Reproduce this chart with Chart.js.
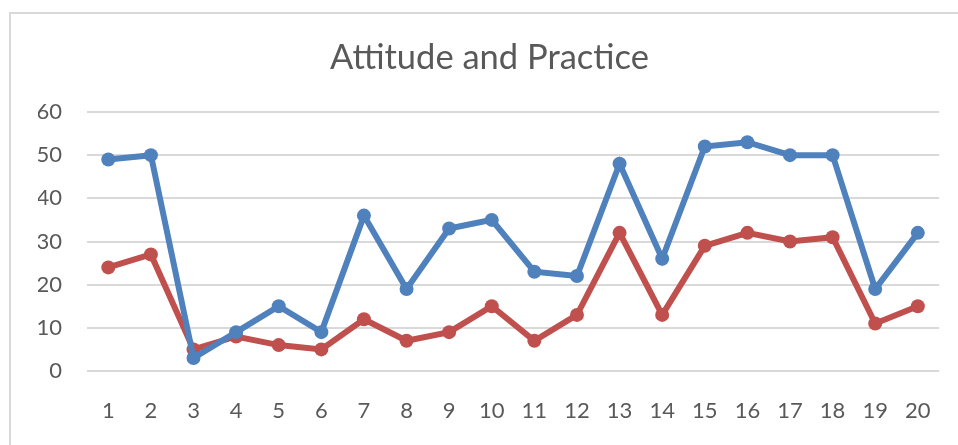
<!DOCTYPE html>
<html><head><meta charset="utf-8">
<script src="https://cdn.jsdelivr.net/npm/chart.js@4"></script>
<style>
html,body{margin:0;padding:0;background:#fff;overflow:hidden}
#frame{position:absolute;left:9px;top:12px;width:1100px;height:600px;border:2px solid #d9d9d9;box-sizing:border-box}
#wrap{position:absolute;left:0;top:0;width:958px;height:445px}
</style></head><body>
<div id="frame"></div>
<div id="wrap"><canvas id="c" width="958" height="445"></canvas></div>
<script>
const categories = ['1','2','3','4','5','6','7','8','9','10','11','12','13','14','15','16','17','18','19','20'];
const attitude = [49,50,3,9,15,9,36,19,33,35,23,22,48,26,52,53,50,50,19,32];
const practice = [24,27,5,8,6,5,12,7,9,15,7,13,32,13,29,32,30,31,11,15];
const yTicks = [0,10,20,30,40,50,60];
const title = 'Attitude and Practice';

const FONT = 'Lato';
new Chart(document.getElementById('c'), {
  type: 'line',
  data: {
    labels: categories,
    datasets: [
      {label:'Attitude', data: attitude, borderColor:'#4F81BD', backgroundColor:'#4F81BD', borderWidth:6, pointRadius:7, pointHoverRadius:7, pointBorderWidth:0, tension:0},
      {label:'Practice', data: practice, borderColor:'#C0504D', backgroundColor:'#C0504D', borderWidth:6, pointRadius:7, pointHoverRadius:7, pointBorderWidth:0, tension:0}
    ]
  },
  options: {
    responsive:false, animation:false, devicePixelRatio:1,
    layout:{padding:{left:38,right:17,top:0,bottom:0}},
    plugins:{
      legend:{display:false}, tooltip:{enabled:false},
      title:{display:true, text:title, color:'#595959', font:{family:FONT, size:34.5, weight:'normal', lineHeight:1.2}, padding:{top:37.3, bottom:33.3}}
    },
    scales:{
      x:{offset:true, grid:{display:false, drawTicks:false}, border:{display:false},
         ticks:{color:'#595959', font:{family:FONT,size:22}, padding:27, maxRotation:0, autoSkip:false},
         afterFit(s){ s.height = 74; }},
      y:{min:0, max:60, grid:{color:'#d9d9d9', lineWidth:2, drawTicks:false}, border:{display:false},
         afterBuildTicks(s){ s.ticks = yTicks.map(v=>({value:v})); },
         ticks:{color:'#595959', font:{family:FONT,size:22}, padding:25},
         afterFit(s){ s.width = 49; }}
    }
  }
});
</script></body></html>
